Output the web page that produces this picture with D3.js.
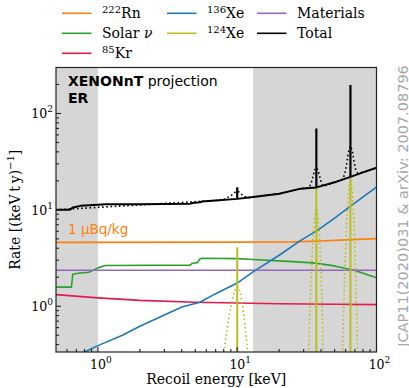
<!DOCTYPE html>
<html>
<head>
<meta charset="utf-8">
<script src="https://cdn.jsdelivr.net/npm/d3@7"></script>
<style>
  body { margin: 0; background: #fff; }
  svg { display: block; }
</style>
</head>
<body>
<div id="chart"></div>
<script>
// energies in keV, rates in (keV t y)^-1
let rnE = [0.5, 10, 25, 40, 60, 100]
  , rnR = [4.6, 4.62, 4.65, 4.75, 4.88, 5.03];

let solarE = [0.5, 0.645, 0.66, 0.72, 0.86, 1.0, 1.13, 4.6, 4.75, 5.2, 5.4, 5.6, 10, 13, 25, 35, 50, 70, 100]
  , solarR = [1.58, 1.58, 2.15, 2.2, 2.25, 2.5, 2.65, 2.67, 2.78, 2.85, 3.1, 3.15, 3.12, 3.05, 2.9, 2.82, 2.62, 2.35, 1.98];

let krE = [0.5, 1, 2, 5, 10, 20, 50, 100]
  , krR = [1.32, 1.22, 1.15, 1.1, 1.08, 1.06, 1.05, 1.04];

let matE = [0.5, 100]
  , matR = [2.36, 2.36];

let xe136E = [0.7, 0.8, 1, 1.5, 2, 3, 4, 5.4, 7, 10, 13, 20, 28.6, 37.7, 50, 70, 100]
  , xe136R = [0.3, 0.335, 0.39, 0.5, 0.62, 0.81, 0.98, 1.1, 1.35, 1.74, 2.27, 3.38, 4.83, 6.13, 8.2, 11.8, 17.2];

// 124Xe smeared peaks (dotted)
let xe124E = [7.9, 8.0, 8.5, 9.0, 9.5, 9.8, 10.1, 10.5, 11.0, 11.5, 11.9, 12.0,
              32.0, 32.5, 33, 34, 35, 36, 37, 38, 39, 40, 41, 41.5, 42.0,
              56.5, 57, 58, 59, 61, 63, 65, 67, 69, 71, 72, 73, 73.5]
  , xe124R = [0.3, 0.33, 0.62, 1.0, 1.4, 1.58, 1.58, 1.4, 0.95, 0.55, 0.33, 0.3,
              0.3, 0.31, 0.65, 2.2, 5.2, 8.75, 10.4, 8.75, 5.2, 2.2, 0.65, 0.31, 0.3,
              0.3, 0.34, 0.88, 2.0, 7.2, 15.5, 21, 15.5, 7.2, 2.0, 0.88, 0.34, 0.3];

// unsmeared lines
let lineE = [10, 37, 65]
  , xe124Line = [4.1, 16.9, 21.8]
  , totLineBase = [13.0, 17.1, 22.0]
  , totLinePeak = [17.2, 70, 198];

let totE = [0.5, 0.63, 0.66, 0.75, 1.0, 1.13, 2, 3, 4.6, 4.8, 5.4, 5.6, 7, 10, 13, 20, 28.6, 37, 50, 65, 80, 100]
  , totR = [10.0, 10.05, 10.6, 11.0, 11.3, 11.4, 11.45, 11.5, 11.6, 11.8, 12.0, 12.2, 12.5, 13.0, 13.6, 14.7, 16.6, 17.1, 19.3, 22.0, 24.5, 27.3];

// total with smeared peaks (dotted)
let totSmE = [0.5, 7.5, 8.0, 9.0, 9.8, 10.2, 11.0, 12.0, 13, 20, 28.6, 32.5, 33, 34, 35, 36, 37, 38, 39, 40, 41, 42,
              50, 57, 59, 61, 63, 65, 67, 69, 71, 73, 80, 100]
  , totSmR = [10.0, 12.6, 12.8, 14.0, 15.5, 15.5, 14.0, 13.3, 13.6, 14.7, 16.6, 16.9, 17.3, 19.1, 22.2, 25.9, 27.5, 26.0, 22.6, 19.6, 18.1, 17.6,
              19.3, 20.8, 23.2, 29.8, 40.2, 46.0, 41.0, 31.5, 25.8, 24.2, 24.5, 27.3];

let bands = [[0.5, 1], [13, 100]];

let legendItems = [
  { sup: '222', txt: 'Rn', color: '#ff7f0e' },
  { txt: 'Solar ', nu: true, color: '#2ca02c' },
  { sup: '85', txt: 'Kr', color: '#e41a4a' },
  { sup: '136', txt: 'Xe', color: '#1f77b4' },
  { sup: '124', txt: 'Xe', color: '#bcbd22' },
  { txt: 'Materials', color: '#9467bd' },
  { txt: 'Total', color: '#000' }
];

let width = 409, height = 388
  , mLeft = 56, mRight = 376.5, mTop = 67.5, mBottom = 352;

let x = d3.scaleLog().domain([0.5, 100]).range([mLeft, mRight]);
let y = d3.scaleLog().domain([0.335, 300]).range([mBottom, mTop]);

let svg = d3.select('#chart').append('svg').attr('width', width).attr('height', height);
let serif = 'DejaVu Serif, serif', sans = 'DejaVu Sans, sans-serif';

svg.append('clipPath').attr('id', 'plot').append('rect')
  .attr('x', mLeft).attr('y', mTop).attr('width', mRight - mLeft).attr('height', mBottom - mTop);

let g = svg.append('g').attr('clip-path', 'url(#plot)');

g.selectAll('rect.band').data(bands).enter().append('rect')
  .attr('class', 'band')
  .attr('x', d => x(d[0])).attr('width', d => x(d[1]) - x(d[0]))
  .attr('y', mTop).attr('height', mBottom - mTop)
  .attr('fill', '#d6d6d6');

let zip = (es, rs) => es.map((e, i) => [e, rs[i]]);
let line = d3.line().x(d => x(d[0])).y(d => y(d[1]));

let draw = (pts, color, w, dash) => {
  let p = g.append('path').attr('d', line(pts))
    .attr('fill', 'none').attr('stroke', color).attr('stroke-width', w)
    .attr('stroke-linejoin', 'round');
  if (dash) p.attr('stroke-dasharray', dash);
  return p;
};

draw(zip(rnE, rnR), '#ff7f0e', 1.6);
draw(zip(solarE, solarR), '#2ca02c', 1.6);
draw(zip(matE, matR), '#9467bd', 1.6);
draw(zip(krE, krR), '#e41a4a', 1.6);
draw(zip(xe136E, xe136R), '#1f77b4', 1.6);
draw(zip(xe124E, xe124R), '#bcbd22', 1.6, '1.6 2.6');

// 124Xe lines from bottom
g.selectAll('line.xe124').data(lineE).enter().append('line')
  .attr('x1', d => x(d)).attr('x2', d => x(d))
  .attr('y1', y(y.domain()[0])).attr('y2', (d, i) => y(xe124Line[i]))
  .attr('stroke', '#bcbd22').attr('stroke-width', 2);

draw(zip(totE, totR), '#000', 2);
draw(zip(totSmE, totSmR), '#000', 1.6, '1.6 2.6');

g.selectAll('line.tot').data(lineE).enter().append('line')
  .attr('x1', d => x(d)).attr('x2', d => x(d))
  .attr('y1', (d, i) => y(totLineBase[i])).attr('y2', (d, i) => y(totLinePeak[i]))
  .attr('stroke', '#000').attr('stroke-width', 2.2);

// frame
svg.append('rect').attr('x', mLeft).attr('y', mTop)
  .attr('width', mRight - mLeft).attr('height', mBottom - mTop)
  .attr('fill', 'none').attr('stroke', '#222').attr('stroke-width', 1.2);

// ticks (inward), labels as 10^n
let sup = (sel, n) => {
  sel.append('tspan').text('10');
  sel.append('tspan').attr('font-size', 9).attr('dy', -6).text(n);
};

let xMajor = [1, 10, 100], yMajor = [1, 10, 100];
let xMinor = [], yMinor = [];
[0.1, 1, 10].forEach(dec => d3.range(2, 10).forEach(k => {
  let v = dec * k;
  if (v > 0.5 && v < 100) xMinor.push(v);
}));
[0.1, 1, 10, 100].forEach(dec => d3.range(2, 10).forEach(k => {
  let v = dec * k;
  if (v > 0.335 && v < 300) yMinor.push(v);
}));

let ticks = svg.append('g').attr('stroke', '#222').attr('stroke-width', 1.1);
xMajor.forEach(v => ticks.append('line').attr('x1', x(v)).attr('x2', x(v)).attr('y1', mBottom).attr('y2', mBottom - 5));
xMinor.forEach(v => ticks.append('line').attr('x1', x(v)).attr('x2', x(v)).attr('y1', mBottom).attr('y2', mBottom - 3));
yMajor.forEach(v => ticks.append('line').attr('y1', y(v)).attr('y2', y(v)).attr('x1', mLeft).attr('x2', mLeft + 5));
yMinor.forEach(v => ticks.append('line').attr('y1', y(v)).attr('y2', y(v)).attr('x1', mLeft).attr('x2', mLeft + 3));

xMajor.forEach((v, i) => {
  let t = svg.append('text').attr('x', x(v) + 3).attr('y', mBottom + 17)
    .attr('text-anchor', 'middle').attr('font-family', serif).attr('font-size', 12.5);
  sup(t, String(i));
});
yMajor.forEach((v, i) => {
  let t = svg.append('text').attr('x', mLeft - 3).attr('y', y(v) + 5)
    .attr('text-anchor', 'end').attr('font-family', serif).attr('font-size', 12.5);
  sup(t, String(i));
});

svg.append('text').attr('x', (mLeft + mRight) / 2).attr('y', 384)
  .attr('text-anchor', 'middle').attr('font-family', serif).attr('font-size', 14)
  .text('Recoil energy [keV]');

let yl = svg.append('text').attr('transform', `translate(20,${(mTop + mBottom) / 2}) rotate(-90)`)
  .attr('text-anchor', 'middle').attr('font-family', serif).attr('font-size', 14);
yl.append('tspan').text('Rate [(keV\u2009t\u2009y)');
yl.append('tspan').attr('font-size', 10).attr('dy', -6).text('\u22121');
yl.append('tspan').attr('dy', 6).text(']');

// annotations
let ann = svg.append('text').attr('x', 68).attr('y', 86).attr('font-family', sans).attr('font-size', 14);
ann.append('tspan').attr('font-weight', 'bold').text('XENONnT');
ann.append('tspan').text(' projection');
svg.append('text').attr('x', 68).attr('y', 103).attr('font-family', sans).attr('font-size', 14)
  .attr('font-weight', 'bold').text('ER');

svg.append('text').attr('x', 68).attr('y', 234).attr('font-family', sans).attr('font-size', 13.5)
  .attr('fill', '#ff7f0e').text('1 \u00b5Bq/kg');

svg.append('text').attr('transform', `translate(407.5,${(62 + 350) / 2}) rotate(-90)`)
  .attr('text-anchor', 'middle').attr('font-family', sans).attr('font-size', 14.5)
  .attr('fill', '#a6a6a6').text('JCAP11(2020)031 & arXiv: 2007.08796');

// legend: 3 columns, filled column-wise
let colX = [62, 167, 257], rowY = [13.3, 33.3, 53.3];
let perCol = [3, 2, 2];
let idx = 0;
perCol.forEach((n, c) => {
  for (let r = 0; r < n; r++, idx++) {
    let it = legendItems[idx];
    let gy = rowY[r];
    svg.append('line').attr('x1', colX[c]).attr('x2', colX[c] + 29.5)
      .attr('y1', gy).attr('y2', gy).attr('stroke', it.color).attr('stroke-width', 1.6);
    let t = svg.append('text').attr('x', colX[c] + 40).attr('y', gy + 5)
      .attr('font-family', serif).attr('font-size', 14);
    if (it.sup) {
      t.append('tspan').attr('font-size', 10).attr('dy', -5).text(it.sup);
      t.append('tspan').attr('dy', 5).text(it.txt);
    } else {
      t.append('tspan').text(it.txt);
    }
    if (it.nu) t.append('tspan').attr('font-style', 'italic').text('\u03bd');
  }
});
</script>
</body>
</html>
